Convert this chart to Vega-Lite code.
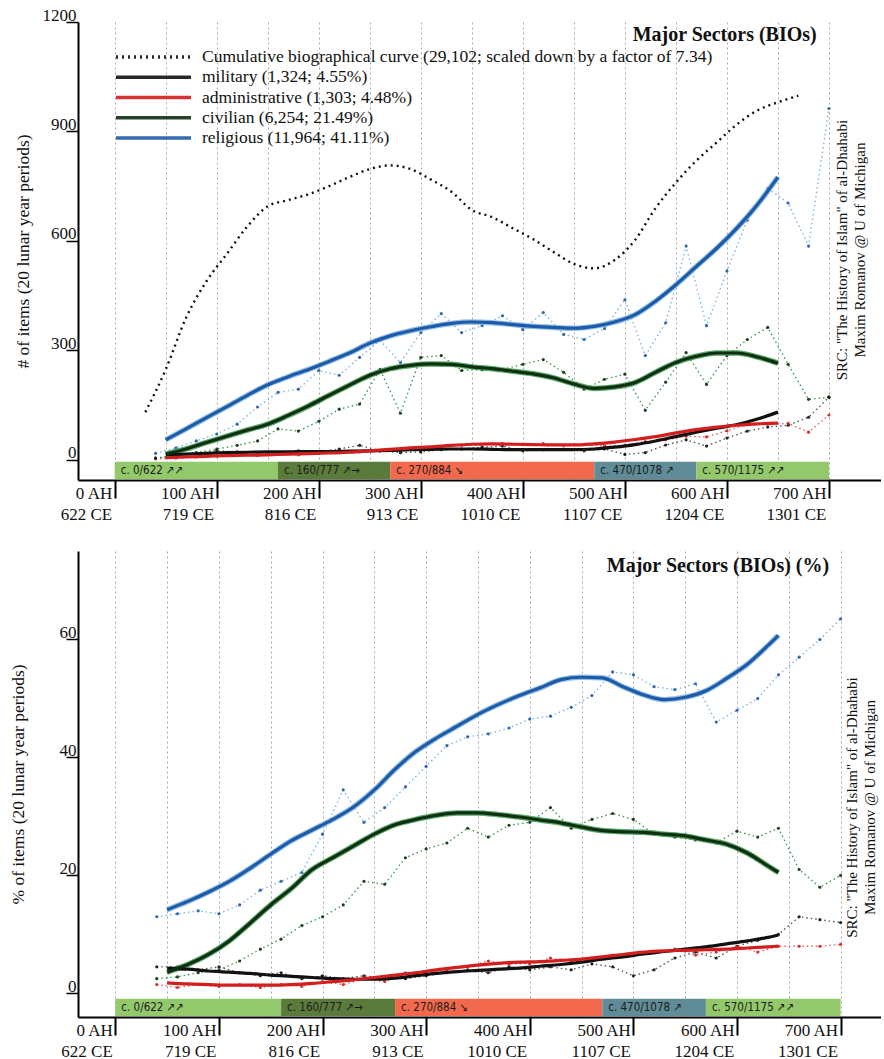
{
  "$schema": "https://vega.github.io/schema/vega-lite/v6.json",
  "background": "white",
  "padding": {"left": 9, "top": 6, "right": 0, "bottom": 0},
  "config": {
    "font": "Liberation Serif",
    "view": {"stroke": null},
    "text": {"font": "Liberation Serif", "color": "#111111"}
  },
  "spacing": 29,
  "align": "each",
  "resolve": {
    "scale": {"color": "independent", "strokeDash": "independent", "stroke": "independent", "fill": "independent", "x": "independent", "y": "independent"},
    "legend": {"color": "independent", "strokeDash": "independent"}
  },
  "datasets": {
    "periods": [
      {"ah": 0, "ah_end": 160, "label": "c. 0/622 ↗↗"},
      {"ah": 160, "ah_end": 270, "label": "c. 160/777 ↗→"},
      {"ah": 270, "ah_end": 470, "label": "c. 270/884 ↘"},
      {"ah": 470, "ah_end": 570, "label": "c. 470/1078 ↗"},
      {"ah": 570, "ah_end": 700, "label": "c. 570/1175 ↗↗"}
    ],
    "count_raw": [
      {"ah":40,"series":"military","v":5},{"ah":60,"series":"military","v":10},{"ah":80,"series":"military","v":18},{"ah":100,"series":"military","v":25},{"ah":120,"series":"military","v":22},{"ah":140,"series":"military","v":20},{"ah":160,"series":"military","v":18},{"ah":180,"series":"military","v":25},{"ah":200,"series":"military","v":22},{"ah":220,"series":"military","v":30},{"ah":240,"series":"military","v":40},{"ah":260,"series":"military","v":25},{"ah":280,"series":"military","v":20},{"ah":300,"series":"military","v":22},{"ah":320,"series":"military","v":28},{"ah":340,"series":"military","v":30},{"ah":360,"series":"military","v":35},{"ah":380,"series":"military","v":38},{"ah":400,"series":"military","v":25},{"ah":420,"series":"military","v":28},{"ah":440,"series":"military","v":30},{"ah":460,"series":"military","v":25},{"ah":480,"series":"military","v":30},{"ah":500,"series":"military","v":15},{"ah":520,"series":"military","v":20},{"ah":540,"series":"military","v":41},{"ah":560,"series":"military","v":55},{"ah":580,"series":"military","v":38},{"ah":600,"series":"military","v":60},{"ah":620,"series":"military","v":79},{"ah":640,"series":"military","v":90},{"ah":660,"series":"military","v":95},{"ah":680,"series":"military","v":117},{"ah":700,"series":"military","v":172},
      {"ah":40,"series":"administrative","v":3},{"ah":60,"series":"administrative","v":5},{"ah":80,"series":"administrative","v":8},{"ah":100,"series":"administrative","v":10},{"ah":120,"series":"administrative","v":12},{"ah":140,"series":"administrative","v":12},{"ah":160,"series":"administrative","v":15},{"ah":180,"series":"administrative","v":14},{"ah":200,"series":"administrative","v":18},{"ah":220,"series":"administrative","v":20},{"ah":240,"series":"administrative","v":22},{"ah":260,"series":"administrative","v":25},{"ah":280,"series":"administrative","v":30},{"ah":300,"series":"administrative","v":32},{"ah":320,"series":"administrative","v":36},{"ah":340,"series":"administrative","v":40},{"ah":360,"series":"administrative","v":42},{"ah":380,"series":"administrative","v":45},{"ah":400,"series":"administrative","v":42},{"ah":420,"series":"administrative","v":45},{"ah":440,"series":"administrative","v":40},{"ah":460,"series":"administrative","v":42},{"ah":480,"series":"administrative","v":38},{"ah":500,"series":"administrative","v":40},{"ah":520,"series":"administrative","v":50},{"ah":540,"series":"administrative","v":55},{"ah":560,"series":"administrative","v":65},{"ah":580,"series":"administrative","v":63},{"ah":600,"series":"administrative","v":80},{"ah":620,"series":"administrative","v":98},{"ah":640,"series":"administrative","v":98},{"ah":660,"series":"administrative","v":100},{"ah":680,"series":"administrative","v":76},{"ah":700,"series":"administrative","v":123},
      {"ah":40,"series":"civilian","v":5},{"ah":60,"series":"civilian","v":12},{"ah":80,"series":"civilian","v":20},{"ah":100,"series":"civilian","v":30},{"ah":120,"series":"civilian","v":40},{"ah":140,"series":"civilian","v":52},{"ah":160,"series":"civilian","v":85},{"ah":180,"series":"civilian","v":79},{"ah":200,"series":"civilian","v":106},{"ah":220,"series":"civilian","v":139},{"ah":240,"series":"civilian","v":153},{"ah":260,"series":"civilian","v":248},{"ah":280,"series":"civilian","v":128},{"ah":300,"series":"civilian","v":281},{"ah":320,"series":"civilian","v":286},{"ah":340,"series":"civilian","v":245},{"ah":360,"series":"civilian","v":247},{"ah":380,"series":"civilian","v":248},{"ah":400,"series":"civilian","v":262},{"ah":420,"series":"civilian","v":275},{"ah":440,"series":"civilian","v":240},{"ah":460,"series":"civilian","v":194},{"ah":480,"series":"civilian","v":221},{"ah":500,"series":"civilian","v":235},{"ah":520,"series":"civilian","v":136},{"ah":540,"series":"civilian","v":213},{"ah":560,"series":"civilian","v":294},{"ah":580,"series":"civilian","v":207},{"ah":600,"series":"civilian","v":286},{"ah":620,"series":"civilian","v":330},{"ah":640,"series":"civilian","v":363},{"ah":660,"series":"civilian","v":262},{"ah":680,"series":"civilian","v":166},{"ah":700,"series":"civilian","v":172},
      {"ah":40,"series":"religious","v":18},{"ah":60,"series":"religious","v":33},{"ah":80,"series":"religious","v":52},{"ah":100,"series":"religious","v":71},{"ah":120,"series":"religious","v":98},{"ah":140,"series":"religious","v":145},{"ah":160,"series":"religious","v":185},{"ah":180,"series":"religious","v":194},{"ah":200,"series":"religious","v":245},{"ah":220,"series":"religious","v":232},{"ah":240,"series":"religious","v":281},{"ah":260,"series":"religious","v":327},{"ah":280,"series":"religious","v":267},{"ah":300,"series":"religious","v":349},{"ah":320,"series":"religious","v":401},{"ah":340,"series":"religious","v":349},{"ah":360,"series":"religious","v":368},{"ah":380,"series":"religious","v":395},{"ah":400,"series":"religious","v":357},{"ah":420,"series":"religious","v":404},{"ah":440,"series":"religious","v":344},{"ah":460,"series":"religious","v":330},{"ah":480,"series":"religious","v":360},{"ah":500,"series":"religious","v":439},{"ah":520,"series":"religious","v":286},{"ah":540,"series":"religious","v":376},{"ah":560,"series":"religious","v":586},{"ah":580,"series":"religious","v":368},{"ah":600,"series":"religious","v":518},{"ah":620,"series":"religious","v":657},{"ah":640,"series":"religious","v":744},{"ah":660,"series":"religious","v":704},{"ah":680,"series":"religious","v":586},{"ah":700,"series":"religious","v":963}
    ],
    "count_cum": [
      {"ah":30,"series":"cumulative","v":131},{"ah":50,"series":"cumulative","v":248},{"ah":70,"series":"cumulative","v":390},{"ah":90,"series":"cumulative","v":490},{"ah":110,"series":"cumulative","v":565},{"ah":130,"series":"cumulative","v":640},{"ah":150,"series":"cumulative","v":695},{"ah":170,"series":"cumulative","v":712},{"ah":190,"series":"cumulative","v":728},{"ah":210,"series":"cumulative","v":750},{"ah":230,"series":"cumulative","v":775},{"ah":250,"series":"cumulative","v":797},{"ah":270,"series":"cumulative","v":807},{"ah":290,"series":"cumulative","v":797},{"ah":310,"series":"cumulative","v":768},{"ah":330,"series":"cumulative","v":735},{"ah":350,"series":"cumulative","v":685},{"ah":370,"series":"cumulative","v":665},{"ah":390,"series":"cumulative","v":635},{"ah":410,"series":"cumulative","v":605},{"ah":430,"series":"cumulative","v":570},{"ah":450,"series":"cumulative","v":537},{"ah":470,"series":"cumulative","v":525},{"ah":490,"series":"cumulative","v":548},{"ah":510,"series":"cumulative","v":603},{"ah":530,"series":"cumulative","v":690},{"ah":550,"series":"cumulative","v":760},{"ah":570,"series":"cumulative","v":820},{"ah":590,"series":"cumulative","v":870},{"ah":610,"series":"cumulative","v":920},{"ah":630,"series":"cumulative","v":958},{"ah":650,"series":"cumulative","v":980},{"ah":670,"series":"cumulative","v":998}
    ],
    "count_smooth": [
      {"ah":50,"series":"military","v":14},{"ah":70,"series":"military","v":16},{"ah":90,"series":"military","v":18},{"ah":110,"series":"military","v":20},{"ah":130,"series":"military","v":21},{"ah":150,"series":"military","v":22},{"ah":170,"series":"military","v":22},{"ah":190,"series":"military","v":23},{"ah":210,"series":"military","v":23},{"ah":230,"series":"military","v":24},{"ah":250,"series":"military","v":25},{"ah":270,"series":"military","v":26},{"ah":290,"series":"military","v":28},{"ah":310,"series":"military","v":29},{"ah":330,"series":"military","v":30},{"ah":350,"series":"military","v":30},{"ah":370,"series":"military","v":29},{"ah":390,"series":"military","v":28},{"ah":410,"series":"military","v":28},{"ah":430,"series":"military","v":28},{"ah":450,"series":"military","v":28},{"ah":470,"series":"military","v":30},{"ah":490,"series":"military","v":35},{"ah":510,"series":"military","v":42},{"ah":530,"series":"military","v":52},{"ah":550,"series":"military","v":64},{"ah":570,"series":"military","v":76},{"ah":590,"series":"military","v":87},{"ah":610,"series":"military","v":97},{"ah":630,"series":"military","v":112},{"ah":650,"series":"military","v":131},
      {"ah":50,"series":"administrative","v":6},{"ah":70,"series":"administrative","v":8},{"ah":90,"series":"administrative","v":10},{"ah":110,"series":"administrative","v":12},{"ah":130,"series":"administrative","v":13},{"ah":150,"series":"administrative","v":14},{"ah":170,"series":"administrative","v":16},{"ah":190,"series":"administrative","v":17},{"ah":210,"series":"administrative","v":19},{"ah":230,"series":"administrative","v":21},{"ah":250,"series":"administrative","v":25},{"ah":270,"series":"administrative","v":29},{"ah":290,"series":"administrative","v":33},{"ah":310,"series":"administrative","v":36},{"ah":330,"series":"administrative","v":40},{"ah":350,"series":"administrative","v":43},{"ah":370,"series":"administrative","v":44},{"ah":390,"series":"administrative","v":43},{"ah":410,"series":"administrative","v":42},{"ah":430,"series":"administrative","v":41},{"ah":450,"series":"administrative","v":41},{"ah":470,"series":"administrative","v":44},{"ah":490,"series":"administrative","v":49},{"ah":510,"series":"administrative","v":56},{"ah":530,"series":"administrative","v":64},{"ah":550,"series":"administrative","v":74},{"ah":570,"series":"administrative","v":83},{"ah":590,"series":"administrative","v":90},{"ah":610,"series":"administrative","v":95},{"ah":630,"series":"administrative","v":99},{"ah":650,"series":"administrative","v":101},
      {"ah":50,"series":"civilian","v":16},{"ah":70,"series":"civilian","v":30},{"ah":90,"series":"civilian","v":48},{"ah":110,"series":"civilian","v":65},{"ah":130,"series":"civilian","v":82},{"ah":150,"series":"civilian","v":98},{"ah":170,"series":"civilian","v":122},{"ah":190,"series":"civilian","v":148},{"ah":210,"series":"civilian","v":177},{"ah":230,"series":"civilian","v":205},{"ah":250,"series":"civilian","v":232},{"ah":270,"series":"civilian","v":250},{"ah":290,"series":"civilian","v":259},{"ah":310,"series":"civilian","v":263},{"ah":330,"series":"civilian","v":262},{"ah":350,"series":"civilian","v":255},{"ah":370,"series":"civilian","v":250},{"ah":390,"series":"civilian","v":243},{"ah":410,"series":"civilian","v":236},{"ah":430,"series":"civilian","v":225},{"ah":450,"series":"civilian","v":208},{"ah":470,"series":"civilian","v":196},{"ah":490,"series":"civilian","v":200},{"ah":510,"series":"civilian","v":212},{"ah":530,"series":"civilian","v":240},{"ah":550,"series":"civilian","v":267},{"ah":570,"series":"civilian","v":284},{"ah":590,"series":"civilian","v":293},{"ah":610,"series":"civilian","v":293},{"ah":630,"series":"civilian","v":282},{"ah":650,"series":"civilian","v":265},
      {"ah":50,"series":"religious","v":55},{"ah":70,"series":"religious","v":85},{"ah":90,"series":"religious","v":116},{"ah":110,"series":"religious","v":146},{"ah":130,"series":"religious","v":177},{"ah":150,"series":"religious","v":206},{"ah":170,"series":"religious","v":228},{"ah":190,"series":"religious","v":248},{"ah":210,"series":"religious","v":270},{"ah":230,"series":"religious","v":293},{"ah":250,"series":"religious","v":320},{"ah":270,"series":"religious","v":340},{"ah":290,"series":"religious","v":354},{"ah":310,"series":"religious","v":365},{"ah":330,"series":"religious","v":374},{"ah":350,"series":"religious","v":378},{"ah":370,"series":"religious","v":376},{"ah":390,"series":"religious","v":371},{"ah":410,"series":"religious","v":366},{"ah":430,"series":"religious","v":363},{"ah":450,"series":"religious","v":361},{"ah":470,"series":"religious","v":366},{"ah":490,"series":"religious","v":378},{"ah":510,"series":"religious","v":398},{"ah":530,"series":"religious","v":435},{"ah":550,"series":"religious","v":480},{"ah":570,"series":"religious","v":530},{"ah":590,"series":"religious","v":580},{"ah":610,"series":"religious","v":636},{"ah":630,"series":"religious","v":700},{"ah":650,"series":"religious","v":775}
    ],
    "pct_raw": [
      {"ah":40,"series":"military","v":4.5},{"ah":60,"series":"military","v":4.5},{"ah":80,"series":"military","v":4.0},{"ah":100,"series":"military","v":4.5},{"ah":120,"series":"military","v":3.5},{"ah":140,"series":"military","v":3.0},{"ah":160,"series":"military","v":3.5},{"ah":180,"series":"military","v":2.5},{"ah":200,"series":"military","v":3.0},{"ah":220,"series":"military","v":2.5},{"ah":240,"series":"military","v":3.0},{"ah":260,"series":"military","v":2.5},{"ah":280,"series":"military","v":2.5},{"ah":300,"series":"military","v":3.0},{"ah":320,"series":"military","v":3.5},{"ah":340,"series":"military","v":4.0},{"ah":360,"series":"military","v":3.5},{"ah":380,"series":"military","v":4.5},{"ah":400,"series":"military","v":4.0},{"ah":420,"series":"military","v":4.5},{"ah":440,"series":"military","v":4.0},{"ah":460,"series":"military","v":5.0},{"ah":480,"series":"military","v":4.5},{"ah":500,"series":"military","v":3.0},{"ah":520,"series":"military","v":4.0},{"ah":540,"series":"military","v":6.0},{"ah":560,"series":"military","v":7.0},{"ah":580,"series":"military","v":6.0},{"ah":600,"series":"military","v":8.0},{"ah":620,"series":"military","v":9.0},{"ah":640,"series":"military","v":10.0},{"ah":660,"series":"military","v":13.0},{"ah":680,"series":"military","v":12.5},{"ah":700,"series":"military","v":12.0},
      {"ah":40,"series":"administrative","v":1.5},{"ah":60,"series":"administrative","v":1.0},{"ah":80,"series":"administrative","v":1.5},{"ah":100,"series":"administrative","v":1.2},{"ah":120,"series":"administrative","v":1.5},{"ah":140,"series":"administrative","v":1.0},{"ah":160,"series":"administrative","v":1.5},{"ah":180,"series":"administrative","v":1.2},{"ah":200,"series":"administrative","v":2.0},{"ah":220,"series":"administrative","v":1.5},{"ah":240,"series":"administrative","v":2.5},{"ah":260,"series":"administrative","v":2.0},{"ah":280,"series":"administrative","v":3.5},{"ah":300,"series":"administrative","v":3.5},{"ah":320,"series":"administrative","v":4.0},{"ah":340,"series":"administrative","v":4.5},{"ah":360,"series":"administrative","v":5.5},{"ah":380,"series":"administrative","v":5.0},{"ah":400,"series":"administrative","v":5.0},{"ah":420,"series":"administrative","v":6.0},{"ah":440,"series":"administrative","v":5.5},{"ah":460,"series":"administrative","v":6.0},{"ah":480,"series":"administrative","v":6.5},{"ah":500,"series":"administrative","v":6.5},{"ah":520,"series":"administrative","v":7.0},{"ah":540,"series":"administrative","v":7.5},{"ah":560,"series":"administrative","v":6.5},{"ah":580,"series":"administrative","v":7.0},{"ah":600,"series":"administrative","v":8.0},{"ah":620,"series":"administrative","v":7.0},{"ah":640,"series":"administrative","v":8.0},{"ah":660,"series":"administrative","v":8.0},{"ah":680,"series":"administrative","v":8.0},{"ah":700,"series":"administrative","v":8.3},
      {"ah":40,"series":"civilian","v":2.5},{"ah":60,"series":"civilian","v":2.8},{"ah":80,"series":"civilian","v":3.5},{"ah":100,"series":"civilian","v":4.0},{"ah":120,"series":"civilian","v":5.5},{"ah":140,"series":"civilian","v":7.5},{"ah":160,"series":"civilian","v":9.2},{"ah":180,"series":"civilian","v":11.5},{"ah":200,"series":"civilian","v":13.0},{"ah":220,"series":"civilian","v":15.0},{"ah":240,"series":"civilian","v":19.0},{"ah":260,"series":"civilian","v":18.5},{"ah":280,"series":"civilian","v":23.0},{"ah":300,"series":"civilian","v":24.5},{"ah":320,"series":"civilian","v":25.5},{"ah":340,"series":"civilian","v":28.0},{"ah":360,"series":"civilian","v":26.5},{"ah":380,"series":"civilian","v":28.5},{"ah":400,"series":"civilian","v":29.0},{"ah":420,"series":"civilian","v":31.5},{"ah":440,"series":"civilian","v":28.0},{"ah":460,"series":"civilian","v":29.5},{"ah":480,"series":"civilian","v":30.5},{"ah":500,"series":"civilian","v":29.5},{"ah":520,"series":"civilian","v":27.0},{"ah":540,"series":"civilian","v":26.5},{"ah":560,"series":"civilian","v":26.0},{"ah":580,"series":"civilian","v":25.5},{"ah":600,"series":"civilian","v":27.5},{"ah":620,"series":"civilian","v":26.5},{"ah":640,"series":"civilian","v":28.0},{"ah":660,"series":"civilian","v":21.0},{"ah":680,"series":"civilian","v":18.0},{"ah":700,"series":"civilian","v":20.0},
      {"ah":40,"series":"religious","v":13.0},{"ah":60,"series":"religious","v":13.5},{"ah":80,"series":"religious","v":14.0},{"ah":100,"series":"religious","v":13.5},{"ah":120,"series":"religious","v":15.0},{"ah":140,"series":"religious","v":17.5},{"ah":160,"series":"religious","v":19.0},{"ah":180,"series":"religious","v":20.5},{"ah":200,"series":"religious","v":27.0},{"ah":220,"series":"religious","v":34.5},{"ah":240,"series":"religious","v":29.0},{"ah":260,"series":"religious","v":31.5},{"ah":280,"series":"religious","v":35.0},{"ah":300,"series":"religious","v":38.5},{"ah":320,"series":"religious","v":42.0},{"ah":340,"series":"religious","v":43.5},{"ah":360,"series":"religious","v":44.0},{"ah":380,"series":"religious","v":45.0},{"ah":400,"series":"religious","v":46.5},{"ah":420,"series":"religious","v":47.0},{"ah":440,"series":"religious","v":48.5},{"ah":460,"series":"religious","v":50.5},{"ah":480,"series":"religious","v":54.5},{"ah":500,"series":"religious","v":54.0},{"ah":520,"series":"religious","v":52.0},{"ah":540,"series":"religious","v":51.5},{"ah":560,"series":"religious","v":52.5},{"ah":580,"series":"religious","v":46.0},{"ah":600,"series":"religious","v":48.0},{"ah":620,"series":"religious","v":50.0},{"ah":640,"series":"religious","v":54.0},{"ah":660,"series":"religious","v":57.0},{"ah":680,"series":"religious","v":60.0},{"ah":700,"series":"religious","v":63.5}
    ],
    "pct_smooth": [
      {"ah":50,"series":"military","v":4.3},{"ah":70,"series":"military","v":4.1},{"ah":90,"series":"military","v":3.8},{"ah":110,"series":"military","v":3.6},{"ah":130,"series":"military","v":3.4},{"ah":150,"series":"military","v":3.1},{"ah":170,"series":"military","v":2.9},{"ah":190,"series":"military","v":2.7},{"ah":210,"series":"military","v":2.5},{"ah":230,"series":"military","v":2.4},{"ah":250,"series":"military","v":2.4},{"ah":270,"series":"military","v":2.6},{"ah":290,"series":"military","v":3.0},{"ah":310,"series":"military","v":3.4},{"ah":330,"series":"military","v":3.7},{"ah":350,"series":"military","v":3.9},{"ah":370,"series":"military","v":4.1},{"ah":390,"series":"military","v":4.3},{"ah":410,"series":"military","v":4.6},{"ah":430,"series":"military","v":4.9},{"ah":450,"series":"military","v":5.3},{"ah":470,"series":"military","v":5.8},{"ah":490,"series":"military","v":6.2},{"ah":510,"series":"military","v":6.7},{"ah":530,"series":"military","v":7.1},{"ah":550,"series":"military","v":7.5},{"ah":570,"series":"military","v":7.9},{"ah":590,"series":"military","v":8.4},{"ah":610,"series":"military","v":8.9},{"ah":630,"series":"military","v":9.5},{"ah":640,"series":"military","v":9.9},
      {"ah":50,"series":"administrative","v":1.8},{"ah":70,"series":"administrative","v":1.6},{"ah":90,"series":"administrative","v":1.5},{"ah":110,"series":"administrative","v":1.4},{"ah":130,"series":"administrative","v":1.4},{"ah":150,"series":"administrative","v":1.4},{"ah":170,"series":"administrative","v":1.5},{"ah":190,"series":"administrative","v":1.7},{"ah":210,"series":"administrative","v":2.0},{"ah":230,"series":"administrative","v":2.3},{"ah":250,"series":"administrative","v":2.7},{"ah":270,"series":"administrative","v":3.1},{"ah":290,"series":"administrative","v":3.5},{"ah":310,"series":"administrative","v":4.0},{"ah":330,"series":"administrative","v":4.4},{"ah":350,"series":"administrative","v":4.8},{"ah":370,"series":"administrative","v":5.1},{"ah":390,"series":"administrative","v":5.3},{"ah":410,"series":"administrative","v":5.4},{"ah":430,"series":"administrative","v":5.6},{"ah":450,"series":"administrative","v":5.8},{"ah":470,"series":"administrative","v":6.2},{"ah":490,"series":"administrative","v":6.6},{"ah":510,"series":"administrative","v":7.0},{"ah":530,"series":"administrative","v":7.2},{"ah":550,"series":"administrative","v":7.3},{"ah":570,"series":"administrative","v":7.4},{"ah":590,"series":"administrative","v":7.5},{"ah":610,"series":"administrative","v":7.7},{"ah":630,"series":"administrative","v":7.9},{"ah":640,"series":"administrative","v":8.0},
      {"ah":50,"series":"civilian","v":3.6},{"ah":70,"series":"civilian","v":4.9},{"ah":90,"series":"civilian","v":6.6},{"ah":110,"series":"civilian","v":8.9},{"ah":130,"series":"civilian","v":11.9},{"ah":150,"series":"civilian","v":15.0},{"ah":170,"series":"civilian","v":17.8},{"ah":190,"series":"civilian","v":21.0},{"ah":210,"series":"civilian","v":23.0},{"ah":230,"series":"civilian","v":25.0},{"ah":250,"series":"civilian","v":27.0},{"ah":270,"series":"civilian","v":28.6},{"ah":290,"series":"civilian","v":29.5},{"ah":310,"series":"civilian","v":30.2},{"ah":330,"series":"civilian","v":30.6},{"ah":350,"series":"civilian","v":30.6},{"ah":370,"series":"civilian","v":30.3},{"ah":390,"series":"civilian","v":29.9},{"ah":410,"series":"civilian","v":29.4},{"ah":430,"series":"civilian","v":28.9},{"ah":450,"series":"civilian","v":28.2},{"ah":470,"series":"civilian","v":27.6},{"ah":490,"series":"civilian","v":27.4},{"ah":510,"series":"civilian","v":27.3},{"ah":530,"series":"civilian","v":27.0},{"ah":550,"series":"civilian","v":26.7},{"ah":570,"series":"civilian","v":26.0},{"ah":590,"series":"civilian","v":25.3},{"ah":610,"series":"civilian","v":23.8},{"ah":630,"series":"civilian","v":21.6},{"ah":640,"series":"civilian","v":20.5},
      {"ah":50,"series":"religious","v":14.2},{"ah":70,"series":"religious","v":15.6},{"ah":90,"series":"religious","v":17.2},{"ah":110,"series":"religious","v":19.0},{"ah":130,"series":"religious","v":21.2},{"ah":150,"series":"religious","v":23.6},{"ah":170,"series":"religious","v":25.9},{"ah":190,"series":"religious","v":27.7},{"ah":210,"series":"religious","v":29.5},{"ah":230,"series":"religious","v":31.6},{"ah":250,"series":"religious","v":34.5},{"ah":270,"series":"religious","v":38.0},{"ah":290,"series":"religious","v":41.0},{"ah":310,"series":"religious","v":43.3},{"ah":330,"series":"religious","v":45.3},{"ah":350,"series":"religious","v":47.3},{"ah":370,"series":"religious","v":49.0},{"ah":390,"series":"religious","v":50.5},{"ah":410,"series":"religious","v":51.8},{"ah":430,"series":"religious","v":53.2},{"ah":450,"series":"religious","v":53.6},{"ah":470,"series":"religious","v":53.5},{"ah":490,"series":"religious","v":52.0},{"ah":510,"series":"religious","v":50.6},{"ah":530,"series":"religious","v":49.8},{"ah":550,"series":"religious","v":50.2},{"ah":570,"series":"religious","v":51.3},{"ah":590,"series":"religious","v":53.4},{"ah":610,"series":"religious","v":55.8},{"ah":630,"series":"religious","v":59.0},{"ah":640,"series":"religious","v":60.7}
    ]
  },
  "vconcat": [
    {
      "width": 803,
      "height": 458,
      "layer": [
        {
          "data": {"name": "count_raw"},
          "mark": {"type": "line", "strokeDash": [1.5, 3], "strokeWidth": 1.4},
          "encoding": {
            "x": {
              "field": "ah", "type": "quantitative",
              "scale": {"domain": [-36, 751], "nice": false, "zero": false},
              "axis": {
                "title": null,
                "values": [0,25,50,75,100,125,150,175,200,225,250,275,300,325,350,375,400,425,450,475,500,525,550,575,600,625,650,675,700],
                "grid": true, "gridColor": "#a9a9a9", "gridDash": [2, 3], "gridWidth": 1,
                "domainColor": "#000000", "domainWidth": 2,
                "tickColor": "#000000", "tickWidth": 2, "tickSize": 18,
                "tickOpacity": {"condition": {"test": "datum.value % 100 != 0", "value": 0}, "value": 1},
                "labelExpr": "datum.value % 100 == 0 ? [datum.value + ' AH', (622 + round(datum.value * 0.97)) + ' CE'] : ''",
                "labelAlign": "right", "labelBaseline": "top", "labelPadding": -13, "labelOffset": -3,
                "labelFont": "Liberation Serif", "labelFontSize": 17, "labelLineHeight": 21, "labelColor": "#111111",
                "labelOverlap": false, "labelFlush": false, "labelBound": false
              }
            },
            "y": {
              "field": "v", "type": "quantitative",
              "scale": {"domain": [-55, 1200], "nice": false, "zero": false},
              "axis": {
                "title": "# of items (20 lunar year periods)",
                "values": [0, 300, 600, 900, 1200], "format": "d",
                "grid": false,
                "domainColor": "#000000", "domainWidth": 2,
                "tickColor": "#000000", "tickWidth": 1.5, "tickSize": 12,
                "labelAlign": "right", "labelBaseline": "alphabetic", "labelPadding": -10, "labelOffset": -2,
                "labelFont": "Liberation Serif", "labelFontSize": 17, "labelColor": "#111111",
                "labelOverlap": false, "labelFlush": false, "labelBound": false,
                "titleFont": "Liberation Serif", "titleFontSize": 17.5, "titleFontWeight": "normal", "titleColor": "#111111", "titlePadding": 10
              }
            },
            "stroke": {"field": "series", "type": "nominal", "legend": null,
              "scale": {"domain": ["military", "administrative", "civilian", "religious"], "range": ["#555555", "#e0606a", "#3b9a4e", "#7eb4e2"]}}
          }
        },
        {
          "data": {"name": "periods"},
          "mark": {"type": "rect"},
          "encoding": {
            "x": {"field": "ah", "type": "quantitative"},
            "x2": {"field": "ah_end"},
            "y": {"datum": -5},
            "y2": {"datum": -53},
            "fill": {"field": "label", "type": "nominal", "legend": null,
              "scale": {"domain": ["c. 0/622 ↗↗", "c. 160/777 ↗→", "c. 270/884 ↘", "c. 470/1078 ↗", "c. 570/1175 ↗↗"],
                        "range": ["#93c86b", "#5b7b3c", "#f2694e", "#5f8c96", "#93c86b"]}}
          }
        },
        {
          "data": {"name": "periods"},
          "mark": {"type": "text", "align": "left", "baseline": "middle", "dx": 6, "font": "DejaVu Sans Condensed", "fontSize": 11.5, "color": "#1b1b1b"},
          "encoding": {"x": {"field": "ah", "type": "quantitative"}, "y": {"datum": -29}, "text": {"field": "label"}}
        },
        {
          "data": {"name": "count_raw"},
          "mark": {"type": "point", "filled": true, "size": 10, "opacity": 0.9},
          "encoding": {
            "x": {"field": "ah", "type": "quantitative"},
            "y": {"field": "v", "type": "quantitative"},
            "color": {"field": "series", "type": "nominal"}
          }
        },
        {
          "data": {"name": "count_cum"},
          "mark": {"type": "line", "strokeWidth": 2.4, "interpolate": "monotone"},
          "encoding": {
            "x": {"field": "ah", "type": "quantitative"},
            "y": {"field": "v", "type": "quantitative"},
            "color": {"field": "series", "type": "nominal"},
            "strokeDash": {"field": "series", "type": "nominal",
              "scale": {"domain": ["cumulative", "military", "administrative", "civilian", "religious"], "range": [[2, 4], [1, 0], [1, 0], [1, 0], [1, 0]]},
              "legend": {
                "title": null, "orient": "none", "legendX": 36, "legendY": 27.5, "direction": "vertical",
                "symbolType": "stroke", "symbolSize": 5625, "symbolStrokeWidth": 3.5, "clipHeight": 15, "rowPadding": 2.25,
                "labelFont": "Liberation Serif", "labelFontSize": 17.5, "labelColor": "#111111", "labelOffset": 9, "labelLimit": 0, "padding": 0,
                "labelExpr": "datum.label == 'cumulative' ? 'Cumulative biographical curve (29,102; scaled down by a factor of 7.34)' : datum.label == 'military' ? 'military (1,324; 4.55%)' : datum.label == 'administrative' ? 'administrative (1,303; 4.48%)' : datum.label == 'civilian' ? 'civilian (6,254; 21.49%)' : 'religious (11,964; 41.11%)'"
              }
            }
          }
        },
        {
          "data": {"name": "count_smooth"},
          "transform": [{"filter": "datum.series == 'civilian' || datum.series == 'religious'"}],
          "mark": {"type": "line", "strokeWidth": 5.5, "interpolate": "monotone", "opacity": 0.85},
          "encoding": {
            "x": {"field": "ah", "type": "quantitative"},
            "y": {"field": "v", "type": "quantitative"},
            "stroke": {"field": "series", "type": "nominal", "legend": null}
          }
        },
        {
          "data": {"name": "count_smooth"},
          "mark": {"type": "line", "strokeWidth": 3.2, "interpolate": "monotone"},
          "encoding": {
            "x": {"field": "ah", "type": "quantitative"},
            "y": {"field": "v", "type": "quantitative"},
            "color": {"field": "series", "type": "nominal",
              "scale": {"domain": ["cumulative", "military", "administrative", "civilian", "religious"], "range": ["#111111", "#111111", "#d41e1e", "#0f2e12", "#1d5aa8"]},
              "legend": {
                "title": null, "orient": "none", "legendX": 36, "legendY": 27.5, "direction": "vertical",
                "symbolType": "stroke", "symbolSize": 5625, "symbolStrokeWidth": 3.5, "clipHeight": 15, "rowPadding": 2.25,
                "labelFont": "Liberation Serif", "labelFontSize": 17.5, "labelColor": "#111111", "labelOffset": 9, "labelLimit": 0, "padding": 0,
                "labelExpr": "datum.label == 'cumulative' ? 'Cumulative biographical curve (29,102; scaled down by a factor of 7.34)' : datum.label == 'military' ? 'military (1,324; 4.55%)' : datum.label == 'administrative' ? 'administrative (1,303; 4.48%)' : datum.label == 'civilian' ? 'civilian (6,254; 21.49%)' : 'religious (11,964; 41.11%)'"
              }
            }
          }
        },
        {
          "data": {"values": [{}]},
          "mark": {"type": "text", "text": "Major Sectors (BIOs)", "align": "right", "baseline": "alphabetic", "fontSize": 20, "fontWeight": "bold"},
          "encoding": {"x": {"datum": 688}, "y": {"datum": 1148}}
        },
        {
          "data": {"values": [{}]},
          "mark": {"type": "text", "text": ["SRC: \"The History of Islam\" of al-Dhahabi", "Maxim Romanov @ U of Michigan"], "angle": 270, "align": "center", "baseline": "middle", "fontSize": 15, "lineHeight": 18},
          "encoding": {"x": {"datum": 713}, "y": {"datum": 575}}
        }
      ]
    },
    {
      "width": 803,
      "height": 466,
      "layer": [
        {
          "data": {"name": "pct_raw"},
          "mark": {"type": "line", "strokeDash": [1.5, 3], "strokeWidth": 1.4},
          "encoding": {
            "x": {
              "field": "ah", "type": "quantitative",
              "scale": {"domain": [-36, 739], "nice": false, "zero": false},
              "axis": {
                "title": null,
                "values": [0,25,50,75,100,125,150,175,200,225,250,275,300,325,350,375,400,425,450,475,500,525,550,575,600,625,650,675,700],
                "grid": true, "gridColor": "#a9a9a9", "gridDash": [2, 3], "gridWidth": 1,
                "domainColor": "#000000", "domainWidth": 2,
                "tickColor": "#000000", "tickWidth": 2, "tickSize": 18,
                "tickOpacity": {"condition": {"test": "datum.value % 100 != 0", "value": 0}, "value": 1},
                "labelExpr": "datum.value % 100 == 0 ? [datum.value + ' AH', (622 + round(datum.value * 0.97)) + ' CE'] : ''",
                "labelAlign": "right", "labelBaseline": "top", "labelPadding": -13, "labelOffset": -3,
                "labelFont": "Liberation Serif", "labelFontSize": 17, "labelLineHeight": 21, "labelColor": "#111111",
                "labelOverlap": false, "labelFlush": false, "labelBound": false
              }
            },
            "y": {
              "field": "v", "type": "quantitative",
              "scale": {"domain": [-4, 75], "nice": false, "zero": false},
              "axis": {
                "title": "% of items (20 lunar year periods)",
                "values": [0, 20, 40, 60], "format": "d",
                "grid": false,
                "domainColor": "#000000", "domainWidth": 2,
                "tickColor": "#000000", "tickWidth": 1.5, "tickSize": 12,
                "labelAlign": "right", "labelBaseline": "alphabetic", "labelPadding": -10, "labelOffset": -2,
                "labelFont": "Liberation Serif", "labelFontSize": 17, "labelColor": "#111111",
                "labelOverlap": false, "labelFlush": false, "labelBound": false,
                "titleFont": "Liberation Serif", "titleFontSize": 17.5, "titleFontWeight": "normal", "titleColor": "#111111", "titlePadding": 32
              }
            },
            "stroke": {"field": "series", "type": "nominal", "legend": null,
              "scale": {"domain": ["military", "administrative", "civilian", "religious"], "range": ["#555555", "#e0606a", "#3b9a4e", "#7eb4e2"]}}
          }
        },
        {
          "data": {"name": "periods"},
          "mark": {"type": "rect"},
          "encoding": {
            "x": {"field": "ah", "type": "quantitative"},
            "x2": {"field": "ah_end"},
            "y": {"datum": -0.9},
            "y2": {"datum": -3.85},
            "fill": {"field": "label", "type": "nominal", "legend": null,
              "scale": {"domain": ["c. 0/622 ↗↗", "c. 160/777 ↗→", "c. 270/884 ↘", "c. 470/1078 ↗", "c. 570/1175 ↗↗"],
                        "range": ["#93c86b", "#5b7b3c", "#f2694e", "#5f8c96", "#93c86b"]}}
          }
        },
        {
          "data": {"name": "periods"},
          "mark": {"type": "text", "align": "left", "baseline": "middle", "dx": 6, "font": "DejaVu Sans Condensed", "fontSize": 11.5, "color": "#1b1b1b"},
          "encoding": {"x": {"field": "ah", "type": "quantitative"}, "y": {"datum": -2.4}, "text": {"field": "label"}}
        },
        {
          "data": {"name": "pct_raw"},
          "mark": {"type": "point", "filled": true, "size": 10, "opacity": 0.9},
          "encoding": {
            "x": {"field": "ah", "type": "quantitative"},
            "y": {"field": "v", "type": "quantitative"},
            "color": {"field": "series", "type": "nominal"}
          }
        },
        {
          "data": {"name": "pct_smooth"},
          "transform": [{"filter": "datum.series == 'civilian' || datum.series == 'religious'"}],
          "mark": {"type": "line", "strokeWidth": 5.5, "interpolate": "monotone", "opacity": 0.85},
          "encoding": {
            "x": {"field": "ah", "type": "quantitative"},
            "y": {"field": "v", "type": "quantitative"},
            "stroke": {"field": "series", "type": "nominal", "legend": null}
          }
        },
        {
          "data": {"name": "pct_smooth"},
          "mark": {"type": "line", "strokeWidth": 3.2, "interpolate": "monotone"},
          "encoding": {
            "x": {"field": "ah", "type": "quantitative"},
            "y": {"field": "v", "type": "quantitative"},
            "color": {"field": "series", "type": "nominal",
              "scale": {"domain": ["military", "administrative", "civilian", "religious"], "range": ["#111111", "#d41e1e", "#0f2e12", "#1d5aa8"]},
              "legend": {
                "title": null, "orient": "none", "legendX": 36, "legendY": 32.5, "direction": "vertical",
                "symbolType": "stroke", "symbolSize": 5625, "symbolStrokeWidth": 3.5, "clipHeight": 15, "rowPadding": 2.25,
                "labelFont": "Liberation Serif", "labelFontSize": 17.5, "labelColor": "#111111", "labelOffset": 9, "labelLimit": 0, "padding": 0,
                "labelExpr": "datum.label == 'military' ? 'military (1,324; 4.55%)' : datum.label == 'administrative' ? 'administrative (1,303; 4.48%)' : datum.label == 'civilian' ? 'civilian (6,254; 21.49%)' : 'religious (11,964; 41.11%)'"
              }
            }
          }
        },
        {
          "data": {"values": [{}]},
          "mark": {"type": "text", "text": "Major Sectors (BIOs) (%)", "align": "right", "baseline": "alphabetic", "fontSize": 20, "fontWeight": "bold"},
          "encoding": {"x": {"datum": 689}, "y": {"datum": 71.4}}
        },
        {
          "data": {"values": [{}]},
          "mark": {"type": "text", "text": ["SRC: \"The History of Islam\" of al-Dhahabi", "Maxim Romanov @ U of Michigan"], "angle": 270, "align": "center", "baseline": "middle", "fontSize": 15, "lineHeight": 18},
          "encoding": {"x": {"datum": 711}, "y": {"datum": 31.5}}
        }
      ]
    }
  ]
}
